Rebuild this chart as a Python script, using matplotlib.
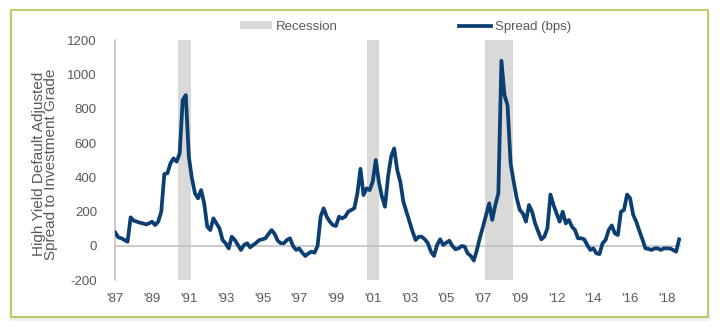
import matplotlib
matplotlib.use("Agg")
import matplotlib.pyplot as plt
from matplotlib.patches import Rectangle, Patch
from matplotlib.lines import Line2D

plt.rcParams['font.family'] = ['Liberation Sans', 'DejaVu Sans']

# Spread (bps), evenly spaced observations on a category axis
spread = [
    78, 50, 45, 35, 25, 167, 148, 142, 136, 132,
    126, 132, 142, 122, 142, 200, 420, 424, 482, 511,
    492, 540, 851, 880, 520, 394, 307, 278, 326, 249,
    113, 93, 161, 132, 103, 35, 16, -14, 54, 35,
    6, -23, 6, 16, -8, 6, 19, 35, 39, 45,
    70, 93, 70, 31, 16, 16, 35, 45, 0, -23,
    -14, -39, -58, -43, -33, -39, 0, 171, 220, 171,
    142, 122, 117, 171, 161, 171, 200, 210, 220, 307,
    450, 297, 336, 326, 375, 501, 375, 288, 229, 404,
    521, 569, 443, 375, 258, 200, 142, 84, 35, 54,
    54, 39, 16, -33, -58, 6, 39, 6, 19, 31,
    0, -19, -14, 0, -4, -43, -58, -85, -23, 50,
    113, 181, 249, 152, 239, 307, 1080, 880, 820, 482,
    375, 278, 210, 190, 142, 239, 200, 132, 84, 39,
    54, 103, 300, 239, 190, 142, 200, 132, 152, 113,
    93, 45, 45, 39, 6, -23, -14, -43, -47, 16,
    35, 93, 120, 74, 64, 200, 210, 300, 278, 181,
    142, 89, 39, -14, -17, -23, -14, -14, -23, -14,
    -14, -14, -23, -33, 39,
]

# recession periods, in observation-index units
rec_start = [20.5, 82.2, 120.6]
rec_end = [24.8, 86.1, 129.7]

tick_labels = ["'87", "'89", "'91", "'93", "'95", "'97", "'99", "'01",
               "'03", "'05", "'07", "'09", "'12", "'14", "'16", "'18"]
obs_per_label = 12

yticks = [-200, 0, 200, 400, 600, 800, 1000, 1200]

W, H = 720, 333
TXT = '#595959'
NAVY = '#0b3e71'
fig = plt.figure(figsize=(W / 100, H / 100), dpi=100)
fig.patch.set_facecolor('white')

# frame with soft shadow
for k, a in enumerate([0.05, 0.04, 0.03, 0.02]):
    off = (k + 1) * 1.2
    fig.add_artist(Rectangle(((11 - off * 0.5) / W, (H - 317 - off) / H),
                             (697 + off) / W, (307 + off * 0.8) / H,
                             transform=fig.transFigure, facecolor='black',
                             edgecolor='none', alpha=a, zorder=0))
fig.add_artist(Rectangle((11 / W, (H - 317) / H), 697 / W, 307 / H,
                         transform=fig.transFigure, facecolor='white',
                         edgecolor='#bcc55a', linewidth=1.3, zorder=1))

ax = fig.add_axes([115 / W, 1 - 280.3 / H, (681 - 115) / W, (280.3 - 40.2) / H])
ax.set_facecolor('none')
ax.set_zorder(2)

x = list(range(len(spread)))
for s, e in zip(rec_start, rec_end):
    ax.axvspan(s, e, color='#d9d9d9', lw=0, zorder=1)
ax.axhline(0, color='#bfbfbf', lw=1.1, zorder=2)
ax.plot(x, spread, color=NAVY, lw=2.7, solid_joinstyle='round', zorder=3)

ax.set_xlim(-0.1, len(spread) - 0.4)
ax.set_ylim(-200, 1200)
ax.set_yticks(yticks)
ax.set_yticklabels([str(v) for v in yticks])
ax.set_xticks([k * obs_per_label for k in range(len(tick_labels))])
ax.set_xticklabels(tick_labels)
ax.tick_params(axis='both', length=0, labelsize=9.5, colors=TXT)
ax.tick_params(axis='y', pad=13)
ax.tick_params(axis='x', pad=9)
for sp in ['top', 'right', 'bottom']:
    ax.spines[sp].set_visible(False)
ax.spines['left'].set_color('#bfbfbf')
ax.spines['left'].set_linewidth(1.1)

fig.text(45 / W, 1 - 164 / H,
         "High Yield Default Adjusted\nSpread to Investment Grade",
         rotation=90, ha='center', va='center', multialignment='center',
         fontsize=11, linespacing=0.9, color=TXT)

handles = [Patch(facecolor='#d9d9d9', edgecolor='none'),
           Line2D([0], [0], color=NAVY, lw=2.7)]
leg = fig.legend(handles, ['Recession', 'Spread (bps)'], ncol=2,
                 loc='center', bbox_to_anchor=(405.5 / W, 1 - 27 / H),
                 frameon=False, fontsize=9.5, handlelength=2.4,
                 handleheight=0.55, handletextpad=0.3, columnspacing=9.2,
                 borderpad=0, borderaxespad=0)
for t in leg.get_texts():
    t.set_color(TXT)

fig.savefig('out.png', dpi=100)
